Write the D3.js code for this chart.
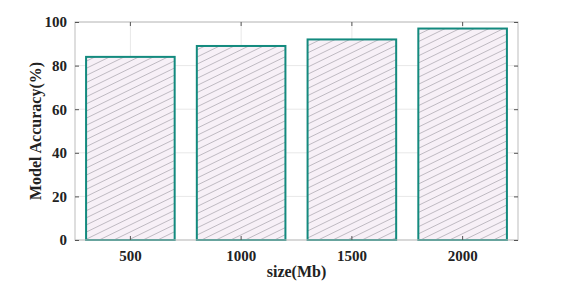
<!DOCTYPE html>
<html>
<head>
<meta charset="utf-8">
<script src="https://cdn.jsdelivr.net/npm/d3@7"></script>
<style>
body { margin: 0; background: #fff; }
text { font-family: "Liberation Serif", "Times New Roman", serif; font-weight: bold; }
</style>
</head>
<body>
<div id="main"></div>
<script>

// data

const sizes = ['500', '1000', '1500', '2000'];
const accuracy = [84, 89, 92, 97];
const yTicks = [0, 20, 40, 60, 80, 100];

const w = 573;
const h = 284;
const m = { left: 75, right: 55, top: 22, bottom: 44 };

// svg

const svg = d3.select('#main').append('svg').attr('width', w).attr('height', h);

const defs = svg.append('defs');
const pat = defs.append('pattern')
    .attr('id', 'hatch')
    .attr('patternUnits', 'userSpaceOnUse')
    .attr('width', 20)
    .attr('height', 6.4)
    .attr('patternTransform', 'rotate(-26)');
pat.append('rect').attr('width', 20).attr('height', 6.4).attr('fill', '#f7f0f7');
pat.append('line')
    .attr('x1', 0).attr('x2', 20).attr('y1', 3.2).attr('y2', 3.2)
    .attr('stroke', '#aaa6ae').attr('stroke-width', 0.7);

const x = d3.scaleBand()
    .domain(sizes)
    .range([m.left, w - m.right])
    .paddingInner(0.2)
    .paddingOuter(0.1);

const y = d3.scaleLinear().domain([0, 100]).range([h - m.bottom, m.top]);

// grid

svg.append('g')
    .selectAll('line')
    .data(yTicks)
    .enter()
    .append('line')
    .attr('x1', m.left).attr('x2', w - m.right)
    .attr('y1', d => y(d)).attr('y2', d => y(d))
    .attr('stroke', '#e8e8e8');

svg.append('g')
    .selectAll('line')
    .data(sizes)
    .enter()
    .append('line')
    .attr('x1', d => x(d) + x.bandwidth() / 2).attr('x2', d => x(d) + x.bandwidth() / 2)
    .attr('y1', m.top).attr('y2', h - m.bottom)
    .attr('stroke', '#e8e8e8');

// bars

svg.append('g')
    .selectAll('rect')
    .data(accuracy)
    .enter()
    .append('rect')
    .attr('x', (d, i) => x(sizes[i]))
    .attr('y', d => y(d))
    .attr('width', x.bandwidth())
    .attr('height', d => y(0) - y(d))
    .attr('fill', 'url(#hatch)')
    .attr('stroke', '#138a7e')
    .attr('stroke-width', 2);

// box

svg.append('rect')
    .attr('x', m.left).attr('y', m.top)
    .attr('width', w - m.left - m.right)
    .attr('height', h - m.top - m.bottom)
    .attr('fill', 'none')
    .attr('stroke', '#bdbdbd');

// axes

const yAxis = d3.axisLeft(y).tickValues(yTicks).tickSize(-4).tickPadding(8);
const yAxisR = d3.axisRight(y).tickValues(yTicks).tickSize(-4).tickFormat('');
const xAxis = d3.axisBottom(x).tickSize(-4).tickPadding(10);
const xAxisT = d3.axisTop(x).tickSize(-4).tickFormat('');

function style(g) {
    g.select('.domain').remove();
    g.selectAll('.tick line').attr('stroke', '#555');
    g.selectAll('.tick text').attr('fill', '#222').style('font-size', '15px');
}

svg.append('g').attr('transform', `translate(${m.left},0)`).call(yAxis).call(style);
svg.append('g').attr('transform', `translate(${w - m.right},0)`).call(yAxisR).call(style);
svg.append('g').attr('transform', `translate(0,${h - m.bottom})`).call(xAxis).call(style);
svg.append('g').attr('transform', `translate(0,${m.top})`).call(xAxisT).call(style);

// labels

svg.append('text')
    .attr('x', (m.left + w - m.right) / 2)
    .attr('y', 277)
    .attr('text-anchor', 'middle')
    .attr('fill', '#222')
    .style('font-size', '16px')
    .text('size(Mb)');

svg.append('text')
    .attr('transform', `translate(41,${(m.top + h - m.bottom) / 2}) rotate(-90)`)
    .attr('text-anchor', 'middle')
    .attr('fill', '#222')
    .style('font-size', '16px')
    .text('Model Accuracy(%)');

</script>
</body>
</html>
